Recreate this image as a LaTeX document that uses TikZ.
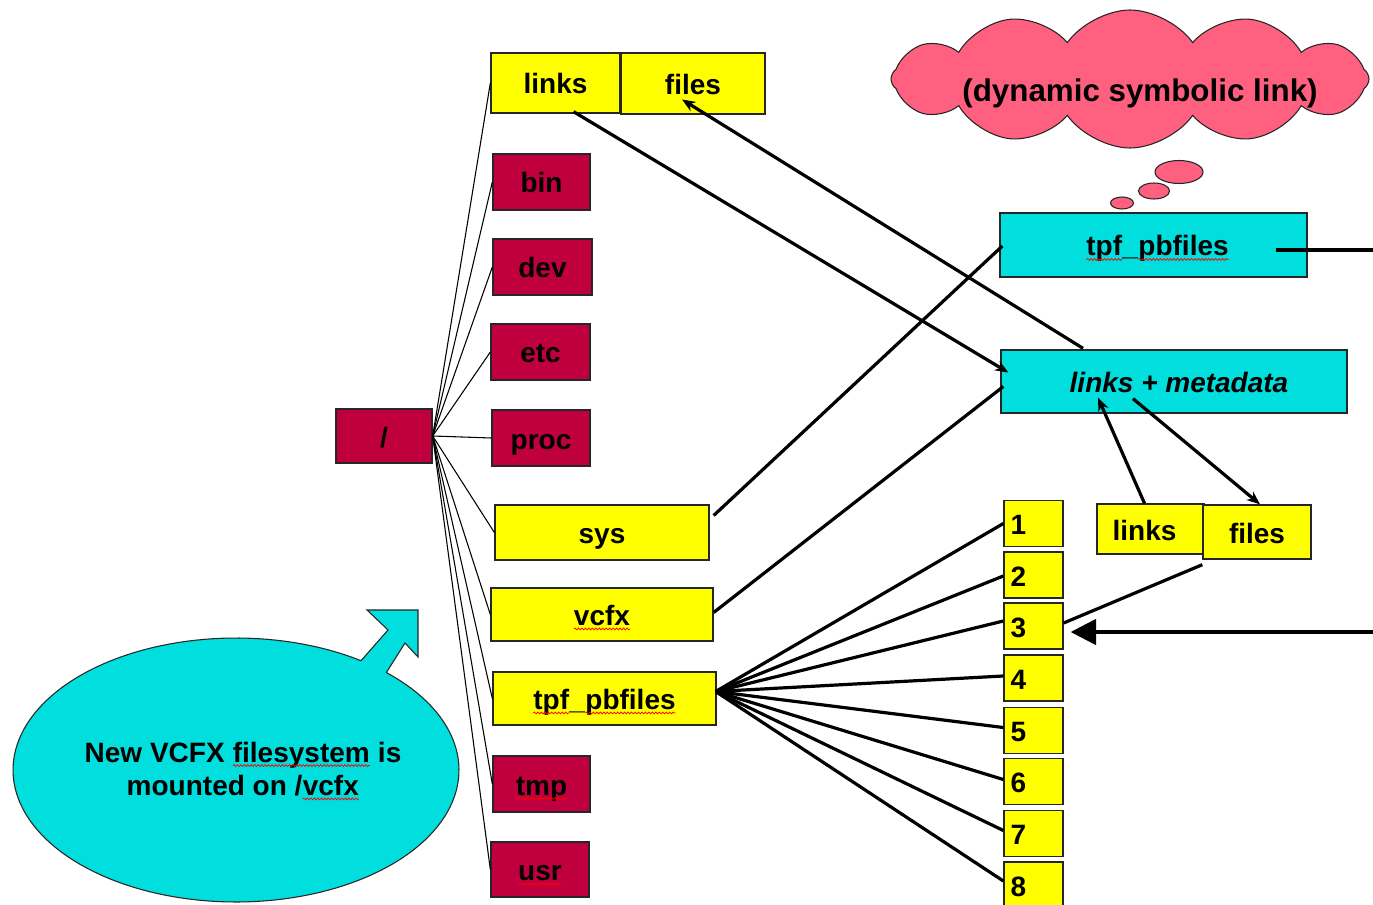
\documentclass[tikz,border=0pt]{standalone}
\usepackage{fontspec}
\setmainfont{Liberation Sans}
\usetikzlibrary{calc,arrows.meta,shapes.symbols,shapes.geometric,decorations.pathmorphing}
\definecolor{crim}{RGB}{192,0,62}
\definecolor{yel}{RGB}{255,255,0}
\definecolor{cy}{RGB}{0,222,222}
\definecolor{pinkc}{RGB}{255,96,128}
\newdimen\px \px=0.75pt
\newcommand\sq[1]{\tikz[baseline=(w.base)]{\node[inner sep=0pt,outer sep=0pt,minimum width=0pt,minimum height=0pt,text height=,text depth=,anchor=base](w){#1};\draw[red,line width=0.55pt,decorate,decoration={snake,amplitude=0.7pt,segment length=2.6pt}] ([yshift=-2.6pt]w.base west) -- ([yshift=-2.6pt]w.base east);}}
\tikzset{
  bx/.style args={#1/#2}{draw=black!85, line width=1pt, minimum width=#1\px, minimum height=#2\px, inner sep=0pt,
     text height=17pt, text depth=0.5pt,
     font=\fontsize{21}{25}\selectfont\bfseries},
  rbox/.style={bx=#1, fill=crim},
  ybox/.style={bx=#1, fill=yel},
  cbox/.style={bx=#1, fill=cy},
  nbox/.style={bx=59/46, fill=yel, text width=46\px, align=left, inner xsep=3\px},
  thin/.style={line width=0.8pt, black},
  thick/.style={line width=2.4pt, black},
  arr/.style={thick, -{Stealth[length=10pt,width=8pt]}},
  bigarr/.style={line width=2.6pt, black, -{Triangle[length=19pt,width=19pt]}},
  bubble/.style={draw=black!85, line width=0.8pt, fill=pinkc},
  lbl/.style={font=\fontsize{21}{25}\selectfont\bfseries, align=center, inner sep=0pt},
}
\begin{document}
\begin{tikzpicture}[x=0.75pt,y=-0.75pt]
\useasboundingbox[fill=white] (0,0) rectangle (1373,905);

% left column of directories
\node[ybox=129/60] (ltop) at (555.5,83) {links};
\node[ybox=144/61] (ftop) at (693,83.5) {files};
\node[rbox=97/56] (bin) at (541.5,182) {bin};
\node[rbox=99/56] (dev) at (542.5,267) {dev};
\node[rbox=99/56] (etc) at (540.5,352) {etc};
\node[rbox=98/56] (proc) at (541,438) {proc};
\node[rbox=96/54] (root) at (384,436) {/};
\node[ybox=214/55] (sys) at (602,532.5) {sys};
\node[ybox=222/53] (vcfx) at (602,614.5) {\sq{vcfx}};
\node[ybox=223/53] (tpfy) at (604.5,698.5) {\sq{tpf}\_\sq{pbfiles}};
\node[rbox=97/56] (tmp) at (541.5,784) {\sq{tmp}};
\node[rbox=98/55] (usr) at (540,869.5) {\sq{usr}};

% numbered boxes
\node[nbox] (n1) at (1033.5,523.5) {1};
\node[nbox] (n2) at (1033.5,575) {2};
\node[nbox] (n3) at (1033.5,626) {3};
\node[nbox] (n4) at (1033.5,678) {4};
\node[nbox] (n5) at (1033.5,730.5) {5};
\node[nbox] (n6) at (1033.5,781.5) {6};
\node[nbox] (n7) at (1033.5,833.5) {7};
\node[nbox] (n8) at (1033.5,885) {8};

% right side
\node[cbox=307/64] (tpfc) at (1153.5,245) {\hspace*{8\px}\sq{tpf}\_\sq{pbfiles}};
\node[cbox=346/63] (lmeta) at (1174,381.5) {\hspace*{10\px}\itshape links + metadata};
\node[ybox=107/50] (lbot) at (1150.5,529) {\hspace*{-12\px}links};
\node[ybox=108/54] (fbot) at (1257,532) {files};

% cloud
\node[cloud, cloud puffs=12, cloud puff arc=110, aspect=3.3, draw=black!85, line width=0.8pt,
      fill=pinkc, minimum width=478\px, minimum height=138\px, inner sep=0pt] (cloud) at (1130,79) {};
\node[lbl, font=\fontsize{23.5}{28}\selectfont\bfseries] (cloudtxt) at (1140,93) {(dynamic symbolic link)};
\node[bubble, ellipse, minimum width=48\px, minimum height=23\px, inner sep=0pt] (b1) at (1179,172) {};
\node[bubble, ellipse, minimum width=31\px, minimum height=16\px, inner sep=0pt] (b2) at (1154,191) {};
\node[bubble, ellipse, minimum width=23\px, minimum height=12\px, inner sep=0pt] (b3) at (1122,203) {};

% callout ellipse with arrow
\draw[draw=black!85, line width=0.8pt, fill=cy]
  plot[domain=-47.6:304.1, samples=150] ({236+223*cos(\x)},{770+132*sin(\x)})
  -- (388,630) -- (367,610) -- (418,610) -- (418,657) -- (405,643) -- cycle;
\node[lbl] (callout) at (243,771) {New VCFX \sq{filesystem} is\\mounted on /\sq{vcfx}};

% tree lines from root
\foreach \c in {ltop,bin,dev,etc,proc,sys,vcfx,tpfy,tmp,usr}
  \draw[thin] (root.east) -- (\c.west);

% fan from tpf_pbfiles to numbered boxes
\coordinate (fan) at ($(tpfy.east)+(-1,-7)$);
\draw[thick] (fan) -- ($(n1.west)+(0,0)$);
\draw[thick] (fan) -- ($(n2.west)+(0,1)$);
\draw[thick] (fan) -- ($(n3.west)+(0,-5)$);
\draw[thick] (fan) -- ($(n4.west)+(0,-2)$);
\draw[thick] (fan) -- ($(n5.west)+(0,-3)$);
\draw[thick] (fan) -- ($(n6.west)+(0,-2)$);
\draw[thick] (fan) -- ($(n7.west)+(0,-3)$);
\draw[thick] (fan) -- ($(n8.west)+(0,-4)$);

% thick connectors
\draw[arr] ($(ltop.south)+(18,-2)$) -- ($(lmeta.west)+(8,-9)$);
\draw[arr] ($(lmeta.north)+(-91,-1)$) -- ($(ftop.center)+(-11,16)$);
\draw[thick] ($(sys.east)+(4,-17)$) -- ($(tpfc.west)+(3,1)$);
\draw[thick] ($(vcfx.east)+(0,-2)$) -- ($(lmeta.west)+(3,5)$);
\coordinate (offR1) at (1373,250);
\draw[thick] ($(tpfc.east)+(-32,5)$) -- (offR1);
\coordinate (offR2) at (1373,632);
\draw[bigarr] (offR2) -- ($(n3.east)+(7,6)$);
\draw[arr] ($(lbot.north)+(-6,0)$) -- ($(lmeta.south)+(-76,-16)$);
\draw[arr] ($(lmeta.south)+(-41,-15)$) -- ($(fbot.north)+(3,0)$);
\draw[thick] ($(fbot.south west)+(0,5)$) -- ($(n3.east)+(0,-3)$);
\end{tikzpicture}
\end{document}
